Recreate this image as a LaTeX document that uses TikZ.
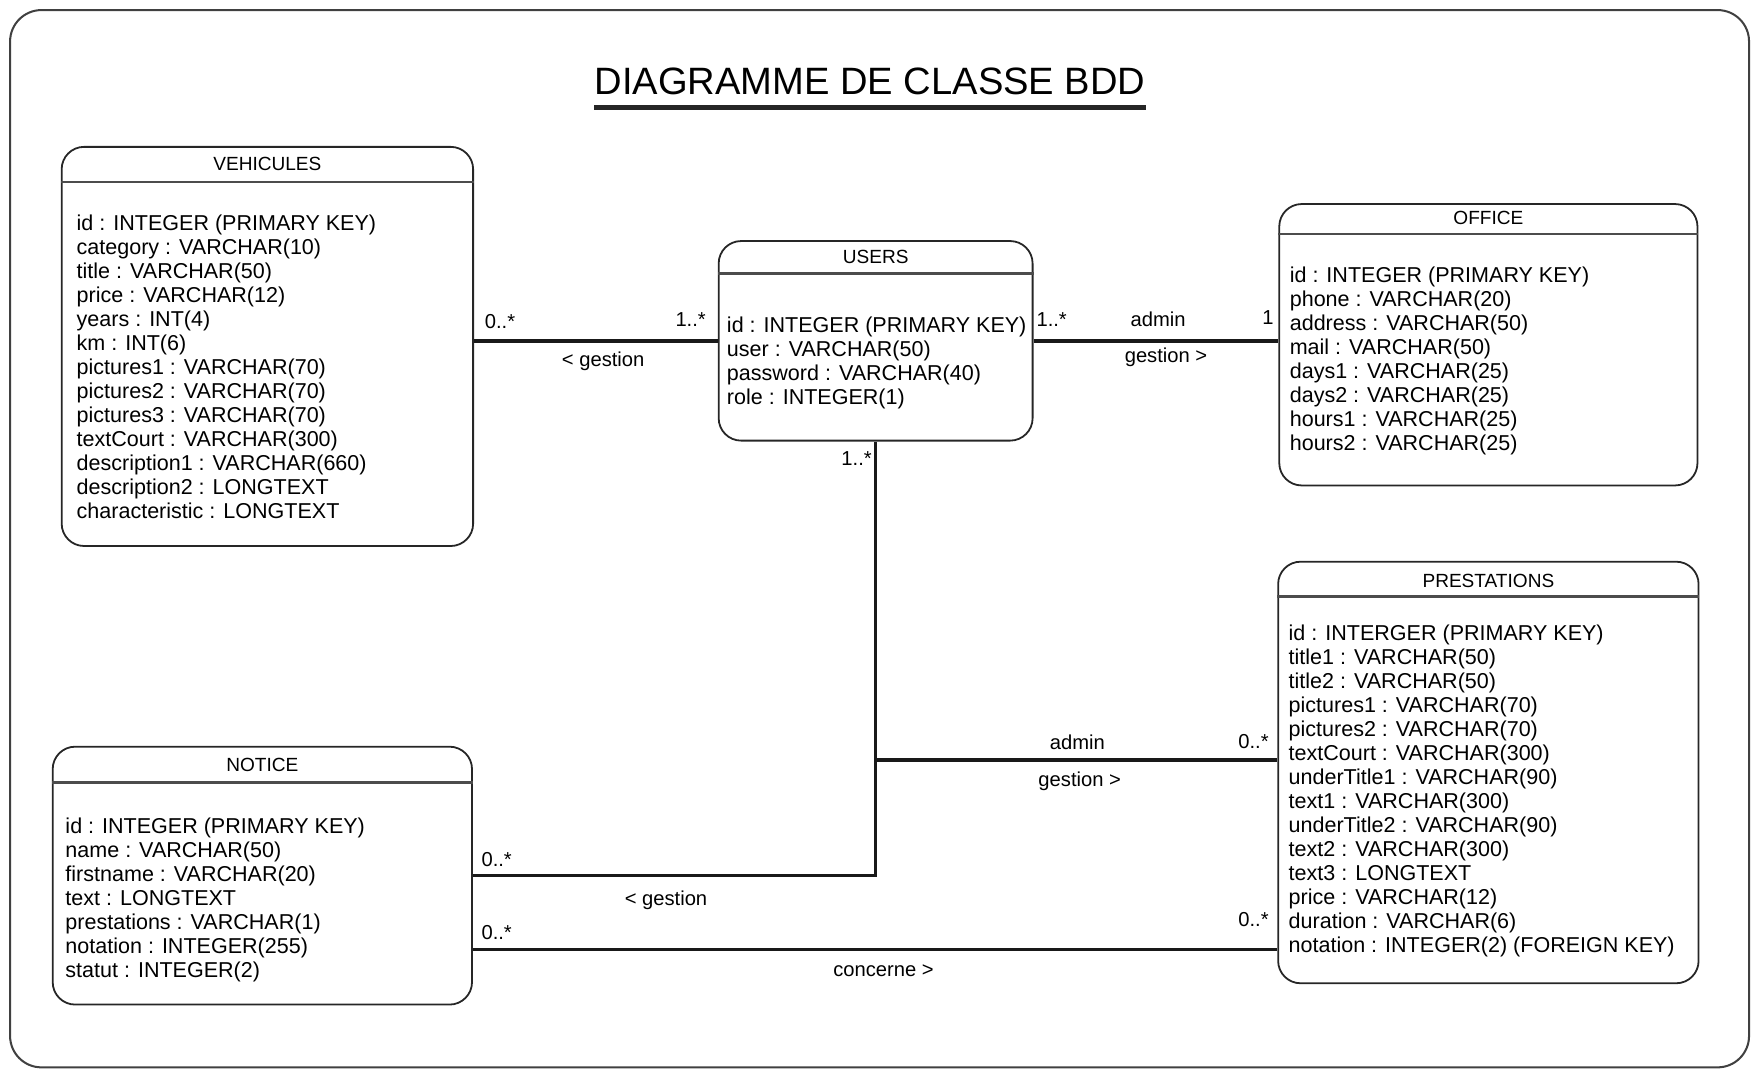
\documentclass[tikz,border=0pt]{standalone}
\usepackage{fontspec}
\setmainfont{Liberation Sans}
\usetikzlibrary{fit}

\begin{document}
\begin{tikzpicture}[x=0.5pt, y=-0.5pt,
        tbl/.style={draw=black!85, line width=0.8pt, rounded corners=10pt, inner sep=0pt},
        hdr/.style={font=\fontsize{8.5}{10}\selectfont, inner sep=0pt},
        attr/.style={font=\fontsize{9.6}{10.7}\selectfont, align=left, anchor=north west, inner sep=0pt},
        sep/.style={draw=black!70, line width=1pt},
        link/.style={draw=black!90, line width=1.6pt},
        lbl/.style={font=\fontsize{9}{10}\selectfont, inner sep=0pt}]
        \useasboundingbox (0,0) rectangle (1568,961);
        \draw[black!75, line width=0.9pt, rounded corners=14pt] (9,9) rectangle (1560,952);
        \node[font=\fontsize{17}{20}\selectfont, inner sep=0pt] (title) at (776,73) {DIAGRAMME DE CLASSE BDD};
        \draw[line width=2pt, black!85] (title.west |- 0,96) -- (title.east |- 0,96);
        % tables
        \node[tbl, fit={(55,131) (422,487)}] (vehicules) {};
        \node[hdr] (vehiculesH) at (vehicules.north |- 0,146) {VEHICULES};
        \draw[sep] (vehicules.west |- 0,162) -- (vehicules.east |- 0,162);
        \node[attr] (vehiculesA) at (68,191) {id : INTEGER (PRIMARY KEY)\\ category : VARCHAR(10)\\ title : VARCHAR(50)\\ price : VARCHAR(12)\\ years : INT(4)\\ km : INT(6)\\ pictures1 : VARCHAR(70)\\ pictures2 : VARCHAR(70)\\ pictures3 : VARCHAR(70)\\ textCourt : VARCHAR(300)\\ description1 : VARCHAR(660)\\ description2 : LONGTEXT\\ characteristic : LONGTEXT};

        \node[tbl, fit={(641,215) (921,393)}] (users) {};
        \node[hdr] (usersH) at (users.north |- 0,229) {USERS};
        \draw[sep] (users.west |- 0,244) -- (users.east |- 0,244);
        \node[attr] (usersA) at (648,282) {id : INTEGER (PRIMARY KEY)\\ user : VARCHAR(50)\\ password : VARCHAR(40)\\ role : INTEGER(1)};

        \node[tbl, fit={(1141,182) (1514,433)}] (office) {};
        \node[hdr] (officeH) at (office.north |- 0,194) {OFFICE};
        \draw[sep] (office.west |- 0,209) -- (office.east |- 0,209);
        \node[attr] (officeA) at (1150,238) {id : INTEGER (PRIMARY KEY)\\ phone : VARCHAR(20)\\ address : VARCHAR(50)\\ mail : VARCHAR(50)\\ days1 : VARCHAR(25)\\ days2 : VARCHAR(25)\\ hours1 : VARCHAR(25)\\ hours2 : VARCHAR(25)};

        \node[tbl, fit={(1140,501) (1515,877)}] (prestations) {};
        \node[hdr] (prestationsH) at (prestations.north |- 0,518) {PRESTATIONS};
        \draw[sep] (prestations.west |- 0,532) -- (prestations.east |- 0,532);
        \node[attr] (prestationsA) at (1149,557) {id : INTERGER (PRIMARY KEY)\\ title1 : VARCHAR(50)\\ title2 : VARCHAR(50)\\ pictures1 : VARCHAR(70)\\ pictures2 : VARCHAR(70)\\ textCourt : VARCHAR(300)\\ underTitle1 : VARCHAR(90)\\ text1 : VARCHAR(300)\\ underTitle2 : VARCHAR(90)\\ text2 : VARCHAR(300)\\ text3 : LONGTEXT\\ price : VARCHAR(12)\\ duration : VARCHAR(6)\\ notation : INTEGER(2) (FOREIGN KEY)};

        \node[tbl, fit={(47,666) (421,896)}] (notice) {};
        \node[hdr] (noticeH) at (notice.north |- 0,682) {NOTICE};
        \draw[sep] (notice.west |- 0,698) -- (notice.east |- 0,698);
        \node[attr] (noticeA) at (58,729) {id : INTEGER (PRIMARY KEY)\\ name : VARCHAR(50)\\ firstname : VARCHAR(20)\\ text : LONGTEXT\\ prestations : VARCHAR(1)\\ notation : INTEGER(255)\\ statut : INTEGER(2)};

        % links
        \coordinate (admin) at (782,678);
        \coordinate (conc) at (0,847);
        \draw[link] (vehicules.east |- users.west) -- (users.west);
        \draw[link] (users.east) -- (users.east -| office.west);
        \draw[link] (users.south) |- (notice.east);
        \draw[link] (users.south |- admin) -- (admin -| prestations.west);
        \draw[link] (notice.east |- conc) -- (prestations.west |- conc);

        \node[lbl] (vu1) at (446,287) {0..*};
        \node[lbl] (vu2) at (616,285) {1..*};
        \node[lbl] (vu3) at (538,322) {< gestion};
        \node[lbl] (uo1) at (938,285) {1..*};
        \node[lbl] (uo2) at (1033,285) {admin};
        \node[lbl] (uo3) at (1131,283) {1};
        \node[lbl] (uo4) at (1040,319) {gestion >};
        \node[lbl] (un1) at (764,409) {1..*};
        \node[lbl] (un2) at (443,767) {0..*};
        \node[lbl] (un3) at (594,803) {< gestion};
        \node[lbl] (up1) at (961,662) {admin};
        \node[lbl] (up2) at (1118,661) {0..*};
        \node[lbl] (up3) at (963,697) {gestion >};
        \node[lbl] (np1) at (443,832) {0..*};
        \node[lbl] (np2) at (1118,820) {0..*};
        \node[lbl] (np3) at (788,866) {concerne >};
    \end{tikzpicture}
\end{document}
